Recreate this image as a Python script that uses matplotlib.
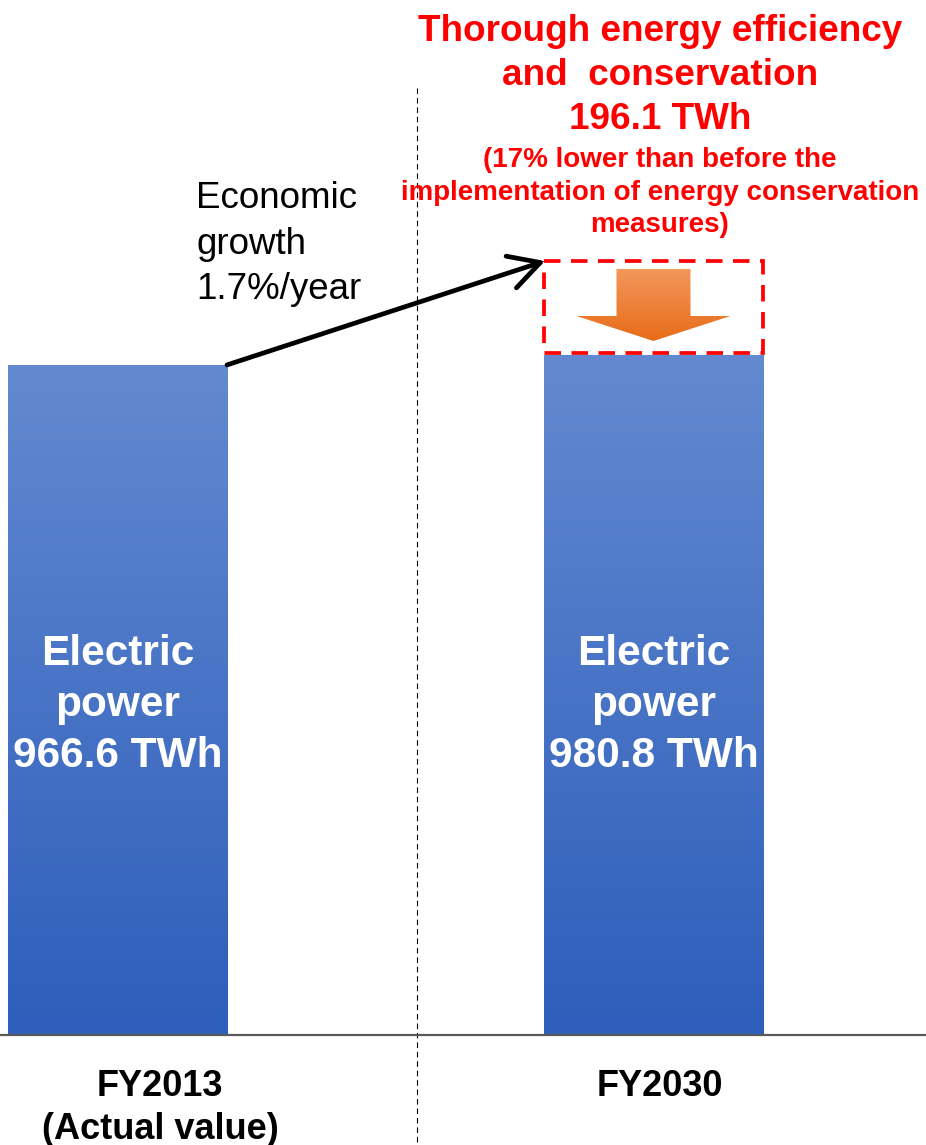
import numpy as np
import matplotlib
matplotlib.use("Agg")
import matplotlib.pyplot as plt
from matplotlib.patches import Rectangle, Polygon
from matplotlib.colors import LinearSegmentedColormap

# ---- data -------------------------------------------------------------
years = ["FY2013\n(Actual value)", "FY2030"]
demand_twh = [966.6, 980.8]
savings_twh = 196.1
savings_pct = 17
growth_pct = 1.7

# ---- figure ------------------------------------------------------------
W, H = 926, 1145
BASE = 1035  # pixel row of the baseline
plt.rcParams['font.family'] = ['Liberation Sans', 'DejaVu Sans']

fig = plt.figure(figsize=(W / 100, H / 100), dpi=100)
ax = fig.add_axes([0, (H - BASE) / H, 1, BASE / H])
ov = fig.add_axes([0, 0, 1, 1], zorder=5)
ov.set_xlim(0, W)
ov.set_ylim(H, 0)
ov.axis('off')
ov.patch.set_alpha(0)

XLIM = (-0.2192, 1.5084)
YLIM = (0, 1493)
bar_w = 0.4086
x = np.arange(len(years))

bars = ax.bar(x, demand_twh, width=bar_w, color='none', edgecolor='none', zorder=2)
blue = LinearSegmentedColormap.from_list('blue', ['#2D5EBB', '#6389D0'])
grad = np.linspace(0, 1, 256).reshape(-1, 1)
for b in bars:
    x0, w, h = b.get_x(), b.get_width(), b.get_height()
    im = ax.imshow(grad, extent=(x0, x0 + w, 0, h), origin='lower', cmap=blue,
                   aspect='auto', zorder=2, interpolation='bicubic')
    im.set_clip_path(b)
ax.set_xlim(*XLIM)
ax.set_ylim(*YLIM)
ax.axis('off')

# baseline
ov.plot([0, W], [BASE, BASE], color='#595959', lw=1.6, zorder=3)


def to_px(px, py):
    """axes data coordinates -> overlay pixel coordinates"""
    d = ax.transData.transform((px, py))
    return ov.transData.inverted().transform(d)


# value labels inside the bars
for xi, v in zip(x, demand_twh):
    tx, _ = to_px(xi, 0)
    ov.text(tx, 705, f"Electric\npower\n{v:.1f} TWh", ha='center', va='center',
            color='white', fontsize=30.5, fontweight='bold', linespacing=1.37, zorder=4)

# category labels under the baseline
label_x = [160, 660]
for lx, lab in zip(label_x, years):
    ov.text(lx, 1069, lab, ha='center', va='top', fontsize=26, fontweight='bold',
            color='black', linespacing=1.3)

# dashed separator
ov.plot([417, 417], [88, H], color='black', lw=0.8, ls=(0, (5, 3.5)), zorder=1)

# dashed box above the FY2030 bar (avoided demand)
bx0, by0 = to_px(x[1] - bar_w / 2, demand_twh[1])
bx1, _ = to_px(x[1] + bar_w / 2, demand_twh[1])
by0 = by0 - 2
by1 = 261
ov.add_patch(Rectangle((bx0, by1), bx1 - bx0, by0 - by1, fill=False,
                       edgecolor='#FF0000', lw=2.7, ls=(0, (4.4, 2.8)), zorder=6))

# orange downward arrow inside the box
cx = (bx0 + bx1) / 2
poly = [(cx - 37, by1 + 8), (cx + 37, by1 + 8), (cx + 37, by1 + 55), (cx + 77, by1 + 55),
        (cx, by1 + 80), (cx - 77, by1 + 55), (cx - 37, by1 + 55)]
arrow_patch = Polygon(poly, closed=True, facecolor='none', edgecolor='none')
ov.add_patch(arrow_patch)
orange = LinearSegmentedColormap.from_list('orange', ['#F3975C', '#E86C18'])
im = ov.imshow(grad, extent=(cx - 77, cx + 77, by1 + 80, by1 + 8), origin='upper',
               cmap=orange, aspect='auto', zorder=5, interpolation='bicubic')
im.set_clip_path(arrow_patch)
ov.set_xlim(0, W)
ov.set_ylim(H, 0)

# growth arrow from the FY2013 bar to the box
sx, sy = to_px(x[0] + bar_w / 2, demand_twh[0])
ov.annotate('', xy=(bx0 + 1, by1), xytext=(sx, sy),
            arrowprops=dict(arrowstyle='->,head_length=0.55,head_width=0.3',
                            lw=3.4, color='black', shrinkA=0, shrinkB=0,
                            mutation_scale=40), zorder=7)

ov.text(196, 181, f"Economic\ngrowth\n{growth_pct}%/year", ha='left', va='top',
        fontsize=26.5, color='black', linespacing=1.39)

# red headline
ov.text(660, 14, f"Thorough energy efficiency\nand  conservation\n{savings_twh} TWh",
        ha='center', va='top', fontsize=26.6, fontweight='bold', color='#FF0000',
        linespacing=1.33)
ov.text(660, 147, f"({savings_pct}% lower than before the\nimplementation of energy conservation\nmeasures)",
        ha='center', va='top', fontsize=20, fontweight='bold', color='#FF0000',
        linespacing=1.33)

fig.savefig('out.png', dpi=100)
